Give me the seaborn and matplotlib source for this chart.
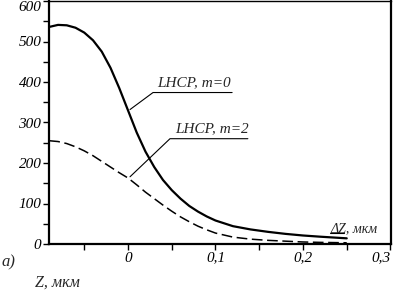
import pandas as pd
import matplotlib
matplotlib.use("Agg")
import matplotlib.pyplot as plt
import seaborn as sns

# Values
z_um = [-0.09, -0.08, -0.07, -0.06, -0.05, -0.04, -0.03, -0.02, -0.01, 0.00,
        0.01, 0.02, 0.03, 0.04, 0.05, 0.06, 0.07, 0.08, 0.09, 0.10,
        0.12, 0.14, 0.16, 0.18, 0.20, 0.22, 0.25]
lhcp_m0 = [536, 541, 540, 534, 522, 503, 475, 435, 385, 330,
           275, 228, 190, 158, 133, 112, 94, 80, 68, 58,
           44, 36, 30, 25, 21, 18, 14]
lhcp_m2 = [255, 253, 248, 240, 230, 218, 204, 190, 176, 163,
           146, 128, 112, 96, 81, 67, 55, 44, 35, 27,
           17, 12, 9, 7, 5, 4, 3]

x_ticks = [-0.05, 0.0, 0.05, 0.1, 0.15, 0.2, 0.25, 0.3]
x_labels = ["", "0", "", "0,1", "", "0,2", "", "0,3"]
y_ticks = [0, 50, 100, 150, 200, 250, 300, 350, 400, 450, 500, 550, 600]
y_labels = ["0", "", "100", "", "200", "", "300", "", "400", "", "500", "", "600"]

df = pd.DataFrame({"z": z_um * 2,
                   "I": lhcp_m0 + lhcp_m2,
                   "curve": ["m0"] * len(z_um) + ["m2"] * len(z_um)})

sns.set_style("ticks")
plt.rcParams["font.family"] = ["Liberation Serif", "DejaVu Serif"]
plt.rcParams["font.style"] = "italic"

fig = plt.figure(figsize=(3.94, 2.91), dpi=100)
ax = fig.add_axes([49 / 394, 1 - 244 / 291, (391 - 49) / 394, 243 / 291])

sns.lineplot(data=df[df.curve == "m0"], x="z", y="I", color="black",
             linewidth=1.6, ax=ax, legend=False)
sns.lineplot(data=df[df.curve == "m2"], x="z", y="I", color="black",
             linewidth=1.1, ax=ax, legend=False)
ax.lines[1].set_dashes([7, 3])

ax.set_xlim(-0.0903, 0.3006)
ax.set_ylim(0, 600)
ax.set_xticks(x_ticks)
ax.set_xticklabels(x_labels)
ax.set_yticks(y_ticks)
ax.set_yticklabels(y_labels)
ax.tick_params(direction="out", length=4, width=1, color="black",
               labelsize=11, labelcolor="black", pad=1.5)
ax.get_xticklabels()[-1].set_ha("right")
ax.get_yticklabels()[-1].set_va("top")
ax.set_xlabel("")
ax.set_ylabel("")
for s in ax.spines.values():
    s.set_visible(True)
    s.set_linewidth(1.6)
    s.set_color("black")
ax.spines["top"].set_linewidth(1.0)

# labels with leader lines and underlines
lk = dict(color="black", lw=0.8)
ax.plot([0.0023, 0.0286, 0.119], [332, 374, 374], **lk)
ax.text(0.033, 389, "LHCP, m=0", fontsize=11, ha="left", va="baseline")
ax.plot([0.0023, 0.048, 0.137], [166, 260, 260], **lk)
ax.text(0.0537, 277, "LHCP, m=2", fontsize=11, ha="left", va="baseline")
ax.text(0.231, 30, "ΔZ, мкм", fontsize=10, ha="left", va="baseline")
ax.plot([0.231, 0.247], [26, 26], **lk)

fig.text(1 / 394, 1 - 266 / 291, "a)", fontsize=12, ha="left", va="baseline")
fig.text(35 / 394, 1 - 287 / 291, "Z, мкм", fontsize=11.5, ha="left", va="baseline")

fig.savefig("out.png", dpi=100)
